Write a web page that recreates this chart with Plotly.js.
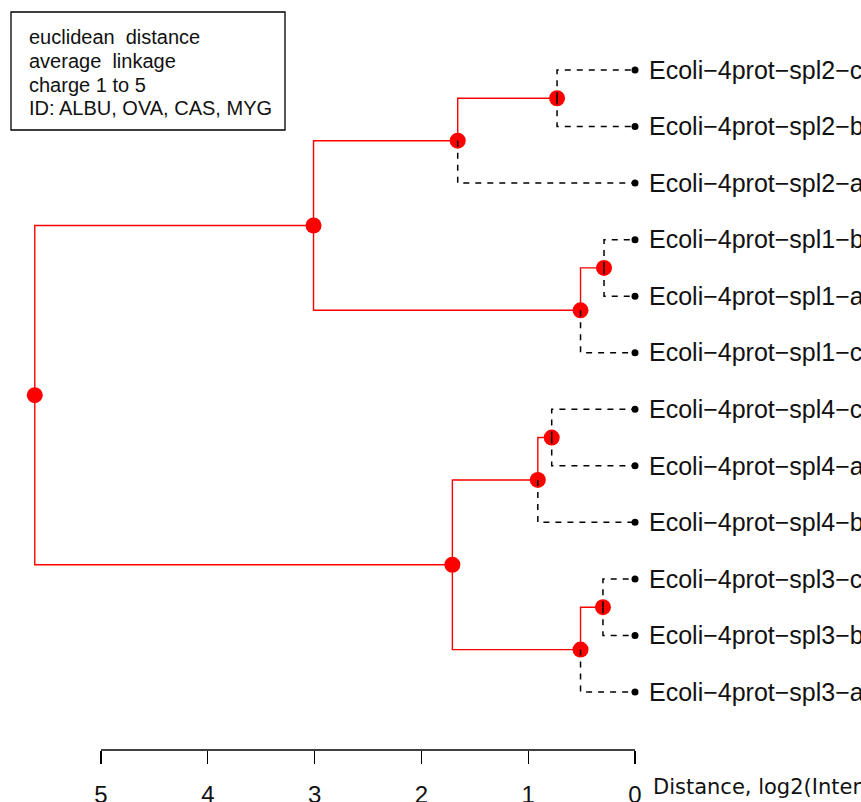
<!DOCTYPE html>
<html>
<head>
<meta charset="utf-8">
<script src="https://cdn.plot.ly/plotly-3.0.1.min.js"></script>
<style>
  html, body { margin: 0; padding: 0; background: #fff; }
  #chart { width: 861px; height: 802px; }
</style>
</head>
<body>
<div id="chart"></div>
<script>
// Leaf labels, listed from top to bottom of the dendrogram
const leafNames = [
  "Ecoli\u22124prot\u2212spl2\u2212c",
  "Ecoli\u22124prot\u2212spl2\u2212b",
  "Ecoli\u22124prot\u2212spl2\u2212a",
  "Ecoli\u22124prot\u2212spl1\u2212b",
  "Ecoli\u22124prot\u2212spl1\u2212a",
  "Ecoli\u22124prot\u2212spl1\u2212c",
  "Ecoli\u22124prot\u2212spl4\u2212c",
  "Ecoli\u22124prot\u2212spl4\u2212a",
  "Ecoli\u22124prot\u2212spl4\u2212b",
  "Ecoli\u22124prot\u2212spl3\u2212c",
  "Ecoli\u22124prot\u2212spl3\u2212b",
  "Ecoli\u22124prot\u2212spl3\u2212a"
];

// Merge steps (hclust style): negative = leaf index (1-based), positive = earlier merge
const mergeA = [-1, 1, -4, 3, 2, -7, 6, -10, 8, 7, 5];
const mergeB = [-2, -3, -5, -6, 4, -8, -9, -11, -12, 9, 10];
const mergeHeight = [0.73, 1.66, 0.29, 0.51, 3.01, 0.78, 0.91, 0.30, 0.51, 1.71, 5.62];

// Axis ticks
const distTicks = [0, 1, 2, 3, 4, 5];

// Legend box text
const noteLines = [
  "euclidean\u00a0 distance",
  "average\u00a0 linkage",
  "charge 1 to 5",
  "ID: ALBU, OVA, CAS, MYG"
];

const axisTitle = "Distance, log2(Intensity)";

// ---- layout geometry (pixels) ----
const W = 861, H = 802;
const mL = 0, mR = 216, mT = 0, mB = 52;
const plotW = W - mL - mR, plotH = H - mT - mB;

const nLeaf = leafNames.length;
// leaf i (0 = top) sits at y = nLeaf - i
const leafY = leafNames.map((_, i) => nLeaf - i);

// positions of each merge node
const nodeX = [], nodeY = [];
function childPos(c) {
  if (c < 0) return { x: 0, y: leafY[-c - 1], leaf: true };
  return { x: nodeX[c - 1], y: nodeY[c - 1], leaf: false };
}
for (let k = 0; k < mergeHeight.length; k++) {
  const a = childPos(mergeA[k]), b = childPos(mergeB[k]);
  nodeX.push(mergeHeight[k]);
  nodeY.push((a.y + b.y) / 2);
}

// build edge paths: internal-internal in red, internal-leaf dashed black
const redX = [], redY = [], blkX = [], blkY = [];
for (let k = 0; k < mergeHeight.length; k++) {
  [mergeA[k], mergeB[k]].forEach(c => {
    const ch = childPos(c);
    const tx = ch.leaf ? blkX : redX, ty = ch.leaf ? blkY : redY;
    tx.push(nodeX[k], nodeX[k], ch.x, null);
    ty.push(nodeY[k], ch.y, ch.y, null);
  });
}

const traces = [
  { type: "scatter", mode: "lines", x: redX, y: redY,
    line: { color: "#ff0000", width: 1.4 }, hoverinfo: "skip", cliponaxis: false },
  { type: "scatter", mode: "markers", x: nodeX, y: nodeY,
    marker: { color: "#ff0000", size: 16 }, hoverinfo: "x+y", cliponaxis: false },
  { type: "scatter", mode: "lines", x: blkX, y: blkY,
    line: { color: "#000000", width: 1.5, dash: "6px,6px" }, hoverinfo: "skip", cliponaxis: false },
  { type: "scatter", mode: "markers", x: leafY.map(() => 0), y: leafY,
    marker: { color: "#000000", size: 7 }, hoverinfo: "y", cliponaxis: false }
];

// x scale: 5 at px 101, 0 at px 635
const pxPerUnit = (635 - 101) / 5;
const xLeft = 5 + (101 - mL) / pxPerUnit;
const xRight = 0 - (mL + plotW - 635) / pxPerUnit;

// y scale: top leaf at px 70, bottom leaf at px 692
const pxPerLeaf = (692 - 70) / (nLeaf - 1);
const yTop = nLeaf + (70 - mT) / pxPerLeaf;
const yBot = 1 - (mT + plotH - 692) / pxPerLeaf;

const px2paperX = px => (px - mL) / plotW;
const px2paperY = py => 1 - (py - mT) / plotH;

const noteY = [37, 61, 85, 108];
const annotations = noteLines.map((t, i) => ({
  text: t, xref: "paper", yref: "paper",
  x: px2paperX(27), y: px2paperY(noteY[i]),
  xanchor: "left", yanchor: "middle", showarrow: false,
  font: { family: "Liberation Sans, Arial, sans-serif", size: 20, color: "#111" }
}));
annotations.push({
  text: axisTitle, xref: "paper", yref: "paper",
  x: px2paperX(651), y: px2paperY(787),
  xanchor: "left", yanchor: "middle", showarrow: false,
  font: { family: "DejaVu Sans, Verdana, sans-serif", size: 21, color: "#111" }
});

const layout = {
  width: W, height: H,
  margin: { l: mL, r: mR, t: mT, b: mB, pad: 0 },
  paper_bgcolor: "#ffffff", plot_bgcolor: "#ffffff",
  showlegend: false,
  xaxis: {
    range: [xLeft, xRight],
    showgrid: false, zeroline: false, showline: false,
    tickmode: "array", tickvals: distTicks, ticktext: distTicks.map(String),
    ticks: "outside", ticklen: 13, tickwidth: 1.3, tickcolor: "#000",
    ticklabelstandoff: 10,
    tickfont: { family: "Liberation Sans Narrow, Liberation Sans, Arial, sans-serif", size: 24, color: "#111" },
    fixedrange: true
  },
  yaxis: {
    range: [yBot, yTop],
    side: "right",
    showgrid: false, zeroline: false, showline: false,
    tickmode: "array", tickvals: leafY, ticktext: leafNames,
    ticks: "", ticklabelstandoff: 3,
    tickfont: { family: "Liberation Sans, Arial, sans-serif", size: 25, color: "#111" },
    fixedrange: true
  },
  shapes: [
    { type: "line", xref: "x", yref: "paper", x0: distTicks[distTicks.length - 1], x1: distTicks[0], y0: 0, y1: 0,
      line: { color: "#000", width: 1.3 } },
    { type: "rect", xref: "paper", yref: "paper",
      x0: px2paperX(11), x1: px2paperX(285), y0: px2paperY(12), y1: px2paperY(130),
      line: { color: "#000", width: 1.3 }, fillcolor: "rgba(0,0,0,0)" }
  ],
  annotations: annotations
};

Plotly.newPlot("chart", traces, layout, { displayModeBar: false, staticPlot: true });
</script>
</body>
</html>
